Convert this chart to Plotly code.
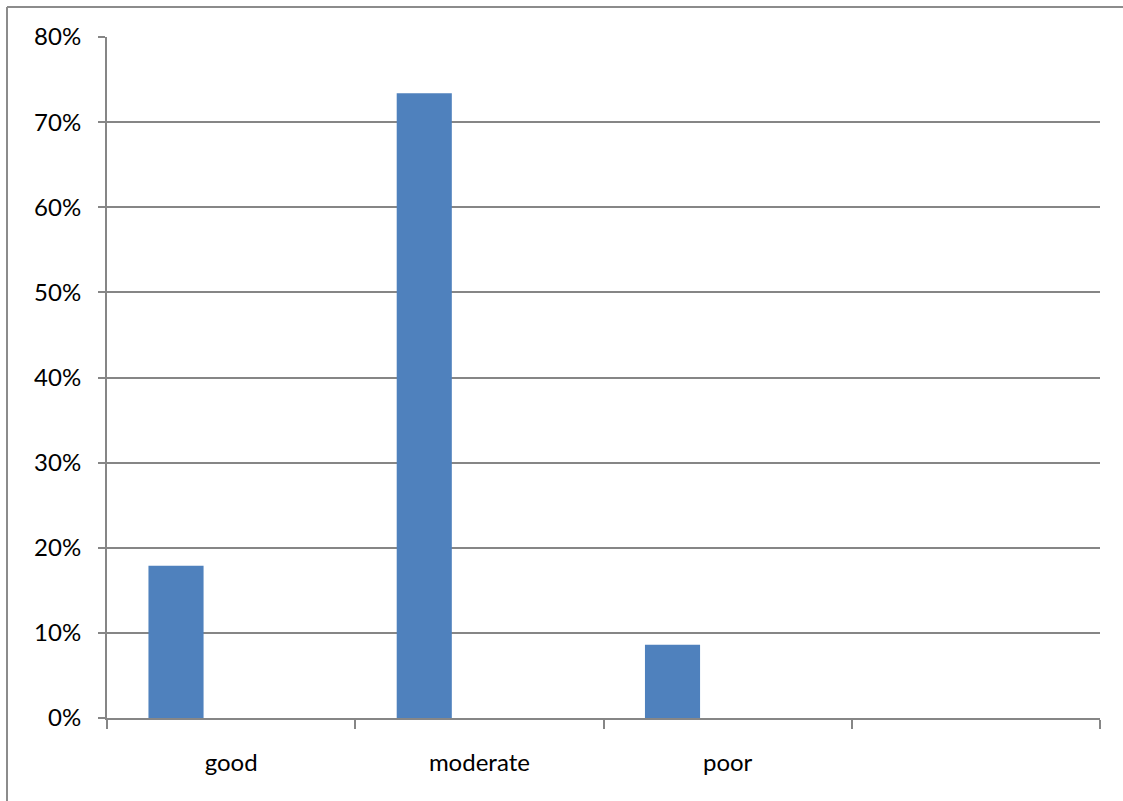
import plotly.graph_objects as go

categories = ["good", "moderate", "poor", " "]
values = [0.179, 0.734, 0.086, None]
y_ticks = [0, 0.1, 0.2, 0.3, 0.4, 0.5, 0.6, 0.7, 0.8]

W, H = 1123, 801
ML, MR, MT, MB = 107, 23, 37, 83
pw, ph = W - ML - MR, H - MT - MB

fig = go.Figure()
fig.add_trace(go.Bar(
    x=categories, y=values,
    marker=dict(color="#4F81BD", line=dict(width=0)),
    width=0.222, offset=-0.333,
    hoverinfo="skip",
))

grid = "#868686"
font = dict(family="Lato, Open Sans, Liberation Sans, sans-serif", size=24, color="#000000")

fig.update_layout(
    width=W, height=H,
    margin=dict(l=ML, r=MR, t=MT, b=MB, autoexpand=False),
    paper_bgcolor="white", plot_bgcolor="white",
    showlegend=False,
    font=font,
    xaxis=dict(
        type="category", categoryorder="array", categoryarray=categories,
        range=[-0.5, 3.5],
        tickson="boundaries", ticks="outside", ticklen=9, tickcolor=grid, tickwidth=2,
        showgrid=False, showline=True, linecolor=grid, linewidth=2,
        ticklabelstandoff=22, tickfont=font, fixedrange=True,
    ),
    yaxis=dict(
        range=[0, 0.8], tickvals=y_ticks, tickformat=".0%",
        ticks="outside", ticklen=7, tickcolor=grid, tickwidth=2,
        showgrid=True, gridcolor=grid, gridwidth=1.5,
        showline=True, linecolor=grid, linewidth=2,
        zeroline=False, ticklabelstandoff=12, tickfont=font, fixedrange=True,
    ),
)
# outer chart frame (left and top edges visible)
bx = (7 - ML) / pw
by = 1 + (MT - 7) / ph
fig.add_shape(type="line", xref="paper", yref="paper",
              x0=bx, x1=bx, y0=-MB / ph, y1=by,
              line=dict(color="#8C8C8C", width=2))
fig.add_shape(type="line", xref="paper", yref="paper",
              x0=bx, x1=(W - ML) / pw, y0=by, y1=by,
              line=dict(color="#8C8C8C", width=2))

fig.write_html(
    "out.html",
    config={"displayModeBar": False},
    post_script="document.body.style.margin='0';document.body.style.overflow='hidden';",
)
